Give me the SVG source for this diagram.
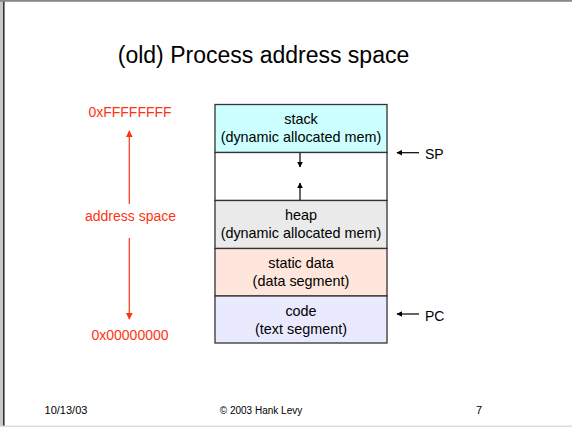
<svg xmlns="http://www.w3.org/2000/svg" width="572" height="427" viewBox="0 0 572 427">
<defs>
<style>
text{font-family:"Liberation Sans",Arial,sans-serif;}
.t{font-size:14.4px;fill:#000;text-anchor:middle;}
.r{font-size:14px;fill:#ff3311;text-anchor:middle;}
.f{font-size:11px;fill:#000;text-anchor:middle;}
.seg{stroke:#333;stroke-width:1.3;}
.blk{stroke:#000;stroke-width:1.2;fill:none;}
.red{stroke:#ff3311;stroke-width:1.2;fill:none;}
</style>
<marker id="ab" viewBox="0 0 10 10" refX="9" refY="5" markerWidth="6" markerHeight="6" markerUnits="userSpaceOnUse" orient="auto"><path d="M0,0L10,5L0,10z" fill="#000"/></marker>
<marker id="ar" viewBox="0 0 10 10" refX="9" refY="5" markerWidth="7" markerHeight="7" markerUnits="userSpaceOnUse" orient="auto"><path d="M0,0L10,5L0,10z" fill="#ff3311"/></marker>
</defs>
<rect x="0" y="0" width="572" height="427" fill="#fff"/>
<rect x="0" y="0" width="3" height="427" fill="#c8c8c8"/>
<rect x="3" y="0" width="1.6" height="427" fill="#333"/>
<rect x="0" y="0" width="572" height="1.8" fill="#888"/>
<rect x="0" y="425.5" width="572" height="1.5" fill="#ddd"/>
<text x="263.5" y="63" style="font-size:23px;text-anchor:middle;">(old) Process address space</text>
<g id="stack"><rect class="seg" x="215" y="104.5" width="172" height="48" fill="#ccffff"/><text class="t" x="301" y="124">stack</text><text class="t" x="301" y="142">(dynamic allocated mem)</text></g>
<g id="free"><rect class="seg" x="215" y="152.5" width="172" height="48" fill="#fff"/></g>
<g id="heap"><rect class="seg" x="215" y="200.5" width="172" height="48" fill="#eaeaea"/><text class="t" x="301" y="220">heap</text><text class="t" x="301" y="238">(dynamic allocated mem)</text></g>
<g id="static"><rect class="seg" x="215" y="248.5" width="172" height="47.5" fill="#ffe6dc"/><text class="t" x="301" y="268">static data</text><text class="t" x="301" y="286">(data segment)</text></g>
<g id="code"><rect class="seg" x="215" y="296" width="172" height="47" fill="#eaeaff"/><text class="t" x="301" y="316">code</text><text class="t" x="301" y="334">(text segment)</text></g>
<g id="labels">
<text class="r" x="130" y="117">0xFFFFFFFF</text>
<text class="r" x="130.5" y="221">address space</text>
<text class="r" x="130" y="340">0x00000000</text>
<text x="425" y="159" style="font-size:14px;">SP</text>
<text x="425" y="321" style="font-size:14px;">PC</text>
</g>
<g id="connectors">
<line class="blk" x1="300" y1="153" x2="300" y2="167" marker-end="url(#ab)"/>
<line class="blk" x1="300" y1="200" x2="300" y2="183" marker-end="url(#ab)"/>
<line class="blk" x1="419" y1="152.7" x2="397" y2="152.7" marker-end="url(#ab)"/>
<line class="blk" x1="419" y1="314" x2="397" y2="314" marker-end="url(#ab)"/>
<line class="red" x1="129.3" y1="204" x2="129.3" y2="131" marker-end="url(#ar)"/>
<line class="red" x1="129.3" y1="238" x2="129.3" y2="319" marker-end="url(#ar)"/>
</g>
<g id="footer">
<text class="f" x="66" y="414">10/13/03</text>
<text class="f" x="261" y="414" style="font-size:10px;">© 2003 Hank Levy</text>
<text class="f" x="479" y="414">7</text>
</g>
</svg>
